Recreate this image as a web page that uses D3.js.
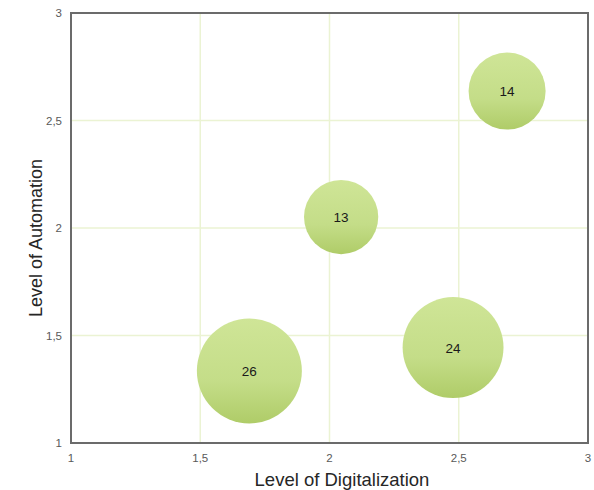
<!DOCTYPE html>
<html>
<head>
<meta charset="UTF-8">
<script src="https://d3js.org/d3.v7.min.js"></script>
<style>
  body { margin: 0; background: #fff; }
  text { font-family: "Liberation Sans", Arial, sans-serif; }
</style>
</head>
<body>
<div id="chart"></div>
<script>
// bubble data
var digitalization = [1.69, 2.478, 2.045, 2.687];
var automation = [1.335, 1.444, 2.051, 2.637];
var counts = [26, 24, 13, 14];
var tickValues = [1, 1.5, 2, 2.5, 3];
var tickLabels = ["1", "1,5", "2", "2,5", "3"];

var width = 594, height = 490;
var margin = {top: 13, right: 6, bottom: 47, left: 71};

var svg = d3.select("#chart").append("svg")
    .attr("width", width)
    .attr("height", height);

var x = d3.scaleLinear().domain([1, 3]).range([margin.left, width - margin.right]);
var y = d3.scaleLinear().domain([1, 3]).range([height - margin.bottom, margin.top]);
var r = d3.scaleSqrt().domain([0, 26]).range([0, 52.5]);

var defs = svg.append("defs");
var grad = defs.append("linearGradient")
    .attr("id", "bub")
    .attr("x1", 0).attr("y1", 0).attr("x2", 0).attr("y2", 1);
grad.append("stop").attr("offset", "0%").attr("stop-color", "#cfe597");
grad.append("stop").attr("offset", "60%").attr("stop-color", "#c4dd88");
grad.append("stop").attr("offset", "100%").attr("stop-color", "#afcc68");

// grid
svg.append("g").selectAll("line.gx")
    .data(tickValues.slice(1, -1))
    .enter().append("line")
    .attr("x1", function(d){ return x(d); })
    .attr("x2", function(d){ return x(d); })
    .attr("y1", y(1)).attr("y2", y(3))
    .attr("stroke", "#ebf3d3")
    .attr("stroke-width", 1.5);

svg.append("g").selectAll("line.gy")
    .data(tickValues.slice(1, -1))
    .enter().append("line")
    .attr("y1", function(d){ return y(d); })
    .attr("y2", function(d){ return y(d); })
    .attr("x1", x(1)).attr("x2", x(3))
    .attr("stroke", "#ebf3d3")
    .attr("stroke-width", 1.5);

// frame
svg.append("rect")
    .attr("x", x(1)).attr("y", y(3))
    .attr("width", x(3) - x(1))
    .attr("height", y(1) - y(3))
    .attr("fill", "none")
    .attr("stroke", "#6b6b6b")
    .attr("stroke-width", 2);

// tick labels
var labelOf = function(d){ return tickLabels[tickValues.indexOf(d)]; };

svg.append("g").selectAll("text")
    .data(tickValues)
    .enter().append("text")
    .attr("x", function(d){ return x(d); })
    .attr("y", y(1) + 19)
    .attr("text-anchor", "middle")
    .attr("font-size", 11.5)
    .attr("fill", "#595959")
    .text(labelOf);

svg.append("g").selectAll("text")
    .data(tickValues)
    .enter().append("text")
    .attr("x", x(1) - 9)
    .attr("y", function(d){ return y(d) + 4; })
    .attr("text-anchor", "end")
    .attr("font-size", 11.5)
    .attr("fill", "#595959")
    .text(labelOf);

// axis titles
svg.append("text")
    .attr("x", 342)
    .attr("y", 486)
    .attr("text-anchor", "middle")
    .attr("font-size", 18.5)
    .attr("fill", "#262626")
    .text("Level of Digitalization");

svg.append("text")
    .attr("transform", "translate(42," + 238 + ") rotate(-90)")
    .attr("text-anchor", "middle")
    .attr("font-size", 18)
    .attr("fill", "#262626")
    .text("Level of Automation");

// bubbles
var idx = d3.range(counts.length);
var g = svg.append("g");
g.selectAll("circle")
    .data(idx)
    .enter().append("circle")
    .attr("cx", function(i){ return x(digitalization[i]); })
    .attr("cy", function(i){ return y(automation[i]); })
    .attr("r", function(i){ return r(counts[i]); })
    .attr("fill", "url(#bub)");

g.selectAll("text")
    .data(idx)
    .enter().append("text")
    .attr("x", function(i){ return x(digitalization[i]); })
    .attr("y", function(i){ return y(automation[i]) + 5; })
    .attr("text-anchor", "middle")
    .attr("font-size", 13.5)
    .attr("fill", "#1a1a1a")
    .text(function(i){ return counts[i]; });
</script>
</body>
</html>
